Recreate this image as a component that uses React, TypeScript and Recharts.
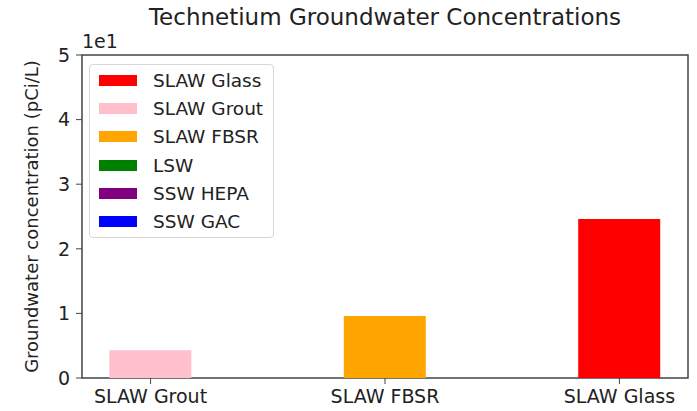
import React from "react";
import {
  BarChart,
  Bar,
  Cell,
  XAxis,
  YAxis,
  Legend,
  ReferenceArea,
} from "recharts";

const categories = ["SLAW Grout", "SLAW FBSR", "SLAW Glass"];
const concentrations = [4.3, 9.6, 24.6];
const barColors = ["#ffc0cb", "#ffa500", "#ff0000"];

const legendNames = ["SLAW Glass", "SLAW Grout", "SLAW FBSR", "LSW", "SSW HEPA", "SSW GAC"];
const legendColors = ["#ff0000", "#ffc0cb", "#ffa500", "#008000", "#800080", "#0000ff"];

const yTicks = [0, 10, 20, 30, 40, 50];

const FONT = "'DejaVu Sans', sans-serif";
const AXIS = "#444";

const data = categories.map((name, i) => ({
  x: i,
  name,
  value: concentrations[i],
  color: barColors[i],
}));

const LegendBox = () => (
  <div
    style={{
      position: "absolute",
      left: 89,
      top: 64,
      width: 185,
      height: 174,
      boxSizing: "border-box",
      border: "1px solid #d6d6d6",
      borderRadius: 4,
      background: "rgba(255,255,255,0.8)",
      fontFamily: FONT,
      fontSize: 18.5,
      color: "#222",
      paddingTop: 1,
      whiteSpace: "nowrap",
    }}
  >
    {legendNames.map((n, i) => (
      <div key={n} style={{ display: "flex", alignItems: "center", height: 28.3 }}>
        <span
          style={{
            display: "inline-block",
            width: 38,
            height: 11,
            marginLeft: 9,
            marginRight: 16,
            background: legendColors[i],
          }}
        />
        <span>{n}</span>
      </div>
    ))}
  </div>
);

export default function App() {
  return (
    <div style={{ position: "absolute", left: 0, top: 0, width: 697, height: 411, background: "#fff" }}>
      <div
        style={{
          position: "absolute",
          left: 82,
          width: 606,
          top: 4,
          textAlign: "center",
          fontFamily: FONT,
          fontSize: 23,
          color: "#222",
        }}
      >
        Technetium Groundwater Concentrations
      </div>
      <div
        style={{
          position: "absolute",
          left: 82,
          top: 30,
          fontFamily: FONT,
          fontSize: 19,
          color: "#222",
        }}
      >
        1e1
      </div>
      <BarChart
        width={697}
        height={411}
        data={data}
        margin={{ top: 55, right: 9, bottom: 0, left: 0 }}
      >
        <XAxis
          dataKey="x"
          type="number"
          domain={[-0.2925, 2.2925]}
          ticks={[0, 1, 2]}
          tickFormatter={(v: number) => categories[v] ?? ""}
          height={33}
          stroke={AXIS}
          tickSize={6}
          tickMargin={6}
          tick={{ fill: "#222", fontFamily: FONT, fontSize: 19 }}
          axisLine={false}
        />
        <YAxis
          type="number"
          domain={[0, 50]}
          ticks={yTicks}
          width={82}
          stroke={AXIS}
          tickSize={6}
          tickMargin={6}
          tickFormatter={(v: number) => String(v / 10)}
          tick={{ fill: "#222", fontFamily: FONT, fontSize: 19 }}
          axisLine={false}
          label={{
            value: "Groundwater concentration (pCi/L)",
            angle: -90,
            position: "insideLeft",
            dx: 27,
            dy: 0,
            style: { textAnchor: "middle", fontFamily: FONT, fontSize: 18, fill: "#222" },
          }}
        />
        <Bar dataKey="value" barSize={82} isAnimationActive={false}>
          {data.map((d, i) => (
            <Cell key={`cell-${i}`} fill={d.color} />
          ))}
        </Bar>
        <ReferenceArea
          x1={-0.2925}
          x2={2.2925}
          y1={0}
          y2={50}
          fill="none"
          stroke={AXIS}
          strokeWidth={1.5}
        />
        <Legend content={() => <LegendBox />} wrapperStyle={{ position: "absolute", left: 0, top: 0 }} />
      </BarChart>
    </div>
  );
}
